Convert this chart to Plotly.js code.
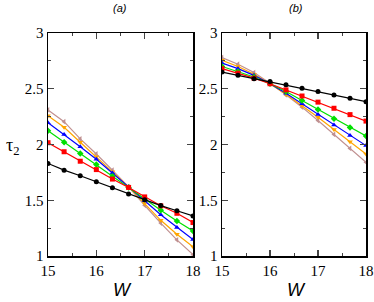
<!DOCTYPE html>
<html>
<head>
<meta charset="utf-8">
<script src="https://cdn.plot.ly/plotly-3.0.1.min.js"></script>
<style>html,body{margin:0;padding:0;background:#fff;}#chart{width:374px;height:302px;}</style>
</head>
<body>
<div id="chart"></div>
<script>
const W = [15, 15.333, 15.667, 16, 16.333, 16.667, 17, 17.333, 17.667, 18];

// panel (a)
const aBlack  = [1.83, 1.77, 1.72, 1.665, 1.613, 1.555, 1.505, 1.452, 1.406, 1.359];
const aRed    = [2.016, 1.935, 1.85, 1.775, 1.69, 1.615, 1.53, 1.45, 1.383, 1.30];
const aGreen  = [2.124, 2.02, 1.92, 1.82, 1.715, 1.615, 1.51, 1.41, 1.315, 1.224];
const aBlue   = [2.195, 2.09, 1.98, 1.867, 1.745, 1.62, 1.495, 1.37, 1.255, 1.148];
const aOrange = [2.258, 2.155, 2.02, 1.89, 1.755, 1.62, 1.47, 1.32, 1.195, 1.083];
const aPink   = [2.31, 2.205, 2.05, 1.915, 1.77, 1.62, 1.455, 1.295, 1.145, 1.012];

// panel (b)
const bBlack  = [2.65, 2.62, 2.59, 2.565, 2.535, 2.505, 2.475, 2.445, 2.415, 2.384];
const bRed    = [2.68, 2.64, 2.595, 2.545, 2.49, 2.435, 2.38, 2.325, 2.268, 2.21];
const bGreen  = [2.70, 2.655, 2.605, 2.545, 2.475, 2.395, 2.315, 2.232, 2.153, 2.076];
const bBlue   = [2.73, 2.68, 2.62, 2.545, 2.46, 2.365, 2.27, 2.175, 2.08, 1.99];
const bOrange = [2.755, 2.70, 2.63, 2.545, 2.45, 2.35, 2.245, 2.135, 2.025, 1.915];
const bPink   = [2.78, 2.72, 2.645, 2.55, 2.445, 2.335, 2.215, 2.09, 1.965, 1.84];

const xTicks = [15, 16, 17, 18];
const yTicks = [1, 1.5, 2, 2.5, 3];
const yTickText = ['1', '1.5', '2', '2.5', '3'];

const colors  = ['#000000', '#ff0000', '#00e000', '#0000ff', '#ffa500', '#c09090'];
const symbols = ['circle', 'square', 'diamond', 'triangle-up', 'triangle-down', 'triangle-left'];

const aSeries = [aBlack, aRed, aGreen, aBlue, aOrange, aPink];
const bSeries = [bBlack, bRed, bGreen, bBlue, bOrange, bPink];

const traces = [];
function addTraces(series, xa, ya) {
  for (let i = series.length - 1; i >= 0; i--) {
    traces.push({
      x: W, y: series[i], xaxis: xa, yaxis: ya, type: 'scatter', mode: 'lines+markers',
      line: {color: colors[i], width: 1.2},
      marker: {color: colors[i], symbol: symbols[i], size: 5},
      showlegend: false, hoverinfo: 'skip'
    });
  }
}
addTraces(aSeries, 'x', 'y');
addTraces(bSeries, 'x2', 'y2');

const serif = '"Liberation Serif", "DejaVu Serif", serif';
const sans = '"Liberation Sans", Arial, sans-serif';
const tickFont = {family: serif, size: 15, color: '#000'};
function xAxis(domain, anchor) {
  return {
    domain: domain, anchor: anchor, range: [15, 18], tickvals: xTicks, ticktext: xTicks.map(String),
    ticks: 'inside', ticklen: 6, tickwidth: 1.2, mirror: 'ticks', showline: true, linewidth: 1.5,
    linecolor: '#000', showgrid: false, zeroline: false, tickfont: tickFont, ticklabelstandoff: 0,
    minor: {ticks: 'inside', ticklen: 3, dtick: 0.5, tick0: 15, tickwidth: 1, showgrid: false}
  };
}
function yAxis(domain, anchor) {
  return {
    domain: domain, anchor: anchor, range: [1, 3], tickvals: yTicks, ticktext: yTickText,
    ticks: 'inside', ticklen: 6, tickwidth: 1.2, mirror: 'ticks', showline: true, linewidth: 1.5,
    linecolor: '#000', showgrid: false, zeroline: false, tickfont: tickFont,
    minor: {ticks: 'inside', ticklen: 3, dtick: 0.25, tick0: 1, tickwidth: 1, showgrid: false}
  };
}

const yDom = [1 - 256 / 302, 1 - 33 / 302];
function ann(text, px, py, family, size) {
  return {text: text, x: px / 374, y: 1 - py / 302, xref: 'paper', yref: 'paper', showarrow: false,
          font: {family: family, size: size, color: '#000'}, xanchor: 'center', yanchor: 'middle'};
}
const layout = {
  width: 374, height: 302,
  margin: {l: 0, r: 0, t: 0, b: 0},
  paper_bgcolor: '#fff', plot_bgcolor: '#fff',
  xaxis: xAxis([48 / 374, 193 / 374], 'y'),
  yaxis: yAxis(yDom, 'x'),
  xaxis2: xAxis([222 / 374, 366 / 374], 'y2'),
  yaxis2: yAxis(yDom, 'x2'),
  annotations: [
    ann('<i>(a)</i>', 120, 8, sans, 11),
    ann('<i>(b)</i>', 296, 8, sans, 11),
    ann('<i>W</i>', 122, 290, sans, 18),
    ann('<i>W</i>', 296, 290, sans, 18),
    ann('τ<sub>2</sub>', 13, 146, serif, 18)
  ]
};

Plotly.newPlot('chart', traces, layout, {staticPlot: true, displayModeBar: false});
</script>
</body>
</html>
